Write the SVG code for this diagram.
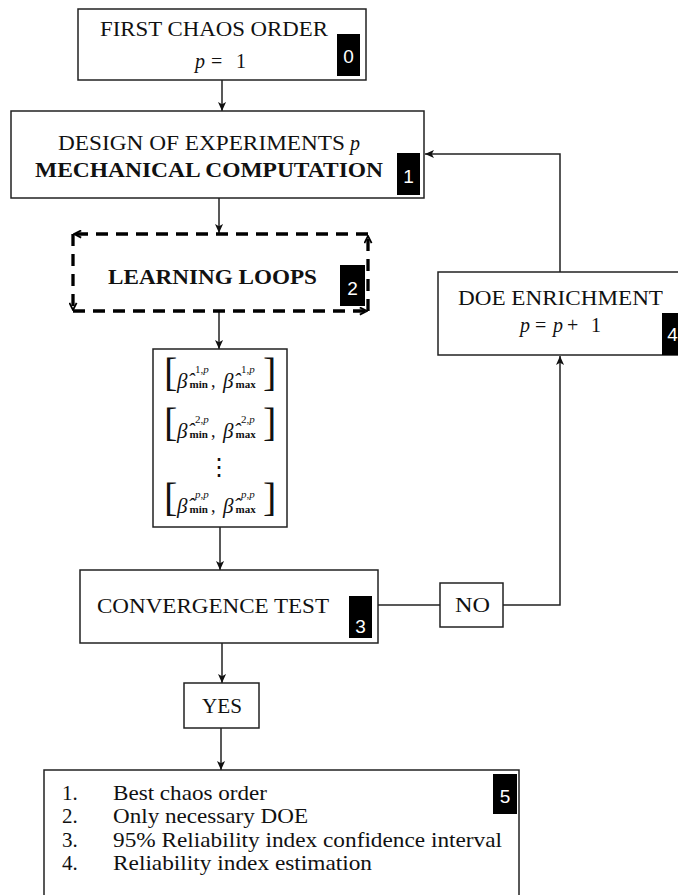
<svg xmlns="http://www.w3.org/2000/svg" width="678" height="895" viewBox="0 0 678 895">
<style>
.t{font-family:"Liberation Serif","Times New Roman",serif;font-size:20px;fill:#111}
.l{font-family:"Liberation Serif","Times New Roman",serif;font-size:21px;fill:#111}
.b{font-weight:bold}
.i{font-style:italic}
.m{font-family:"Liberation Serif","Times New Roman",serif;fill:#111}
.box{fill:#fff;stroke:#222;stroke-width:1.5}
.tag{fill:#000}
.tt{font-family:"Liberation Sans",Arial,sans-serif;font-size:19px;fill:#fff;text-anchor:middle}
.conn{fill:none;stroke:#222;stroke-width:1.5}
.dash{fill:none;stroke:#000;stroke-width:3.3;stroke-dasharray:12 8}
</style>
<defs>
<marker id="arr" viewBox="0 0 10 10" refX="10" refY="5" markerWidth="9" markerHeight="9" markerUnits="userSpaceOnUse" orient="auto">
<path d="M0,0.5 L10,5 L0,9.5 L2.5,5 z" fill="#111"/>
</marker>
<marker id="chev" viewBox="0 0 10 10" refX="9" refY="5" markerWidth="9" markerHeight="9" markerUnits="userSpaceOnUse" orient="auto">
<path d="M1,1 L9,5 L1,9" fill="none" stroke="#000" stroke-width="2" stroke-dasharray="none"/>
</marker>
</defs>
<rect width="678" height="895" fill="#fff"/>

<g id="connectors">
<line class="conn" x1="222" y1="80" x2="222" y2="111" marker-end="url(#arr)"/>
<line class="conn" x1="219" y1="198" x2="219" y2="233" marker-end="url(#arr)"/>
<line class="conn" x1="219" y1="312" x2="219" y2="349" marker-end="url(#arr)"/>
<line class="conn" x1="220" y1="527" x2="220" y2="570" marker-end="url(#arr)"/>
<line class="conn" x1="222" y1="643" x2="222" y2="683" marker-end="url(#arr)"/>
<line class="conn" x1="221" y1="728" x2="221" y2="770" marker-end="url(#arr)"/>
<line class="conn" x1="378" y1="605" x2="440" y2="605"/>
<polyline class="conn" points="503,605 560,605 560,356" marker-end="url(#arr)"/>
<polyline class="conn" points="560,272 560,154 425,154" marker-end="url(#arr)"/>
</g>

<g id="node0">
<rect class="box" x="78" y="9" width="288" height="71"/>
<text class="t" x="100" y="36" textLength="228" lengthAdjust="spacingAndGlyphs">FIRST CHAOS ORDER</text>
<text class="t" x="195" y="68"><tspan class="i">p</tspan><tspan x="211">=</tspan><tspan x="236">1</tspan></text>
<rect class="tag" x="337" y="34" width="23" height="42"/>
<text class="tt" x="348.5" y="63">0</text>
</g>

<g id="node1">
<rect class="box" x="11" y="111" width="413" height="87"/>
<text class="t" x="58" y="150"><tspan textLength="287" lengthAdjust="spacingAndGlyphs">DESIGN OF EXPERIMENTS</tspan><tspan class="i" x="350">p</tspan></text>
<text class="t b" x="35" y="177" textLength="348" lengthAdjust="spacingAndGlyphs">MECHANICAL COMPUTATION</text>
<rect class="tag" x="397" y="153" width="23" height="42"/>
<text class="tt" x="408.5" y="183">1</text>
</g>

<g id="node2">
<path class="dash" d="M368,311 L368,236" marker-end="url(#chev)"/>
<path class="dash" d="M368,234 L74,234" marker-end="url(#chev)"/>
<path class="dash" d="M73,234 L73,310" marker-end="url(#chev)"/>
<path class="dash" d="M73,311 L367,311" marker-end="url(#chev)"/>
<text class="t b" x="108" y="284" textLength="209" lengthAdjust="spacingAndGlyphs">LEARNING LOOPS</text>
<rect class="tag" x="340" y="265" width="25" height="41"/>
<text class="tt" x="352.5" y="295">2</text>
</g>

<g id="intervals">
<rect class="box" x="153" y="349" width="134" height="178"/>
<g id="row1" transform="translate(0,388)">
<text class="m" x="164" y="-2" font-size="40">[</text>
<text class="m" x="177" y="0" font-size="21"><tspan class="i">β̂</tspan><tspan x="195" y="-15" font-size="11">1,<tspan class="i">p</tspan></tspan><tspan x="189.5" y="0" font-size="11" class="b">min</tspan><tspan x="211" y="-1" font-size="18">,</tspan></text>
<text class="m" x="223" y="0" font-size="21"><tspan class="i">β̂</tspan><tspan x="241" y="-15" font-size="11">1,<tspan class="i">p</tspan></tspan><tspan x="235.5" y="0" font-size="11" class="b">max</tspan></text>
<text class="m" x="263" y="-2" font-size="40">]</text>
</g>
<g id="row2" transform="translate(0,438)">
<text class="m" x="164" y="-2" font-size="40">[</text>
<text class="m" x="177" y="0" font-size="21"><tspan class="i">β̂</tspan><tspan x="195" y="-15" font-size="11">2,<tspan class="i">p</tspan></tspan><tspan x="189.5" y="0" font-size="11" class="b">min</tspan><tspan x="211" y="-1" font-size="18">,</tspan></text>
<text class="m" x="223" y="0" font-size="21"><tspan class="i">β̂</tspan><tspan x="241" y="-15" font-size="11">2,<tspan class="i">p</tspan></tspan><tspan x="235.5" y="0" font-size="11" class="b">max</tspan></text>
<text class="m" x="263" y="-2" font-size="40">]</text>
</g>
<text x="219" y="475" font-family="DejaVu Serif, serif" font-size="24" text-anchor="middle" fill="#111">⋮</text>
<g id="row3" transform="translate(0,513)">
<text class="m" x="164" y="-2" font-size="40">[</text>
<text class="m" x="177" y="0" font-size="21"><tspan class="i">β̂</tspan><tspan x="195" y="-15" font-size="11" class="i">p<tspan font-style="normal">,</tspan>p</tspan><tspan x="189.5" y="0" font-size="11" class="b">min</tspan><tspan x="211" y="-1" font-size="18">,</tspan></text>
<text class="m" x="223" y="0" font-size="21"><tspan class="i">β̂</tspan><tspan x="241" y="-15" font-size="11" class="i">p<tspan font-style="normal">,</tspan>p</tspan><tspan x="235.5" y="0" font-size="11" class="b">max</tspan></text>
<text class="m" x="263" y="-2" font-size="40">]</text>
</g>
</g>

<g id="node3">
<rect class="box" x="80" y="570" width="298" height="73"/>
<text class="t" x="97" y="613" textLength="232" lengthAdjust="spacingAndGlyphs">CONVERGENCE TEST</text>
<rect class="tag" x="349" y="596" width="23" height="42"/>
<text class="tt" x="360.5" y="633">3</text>
</g>

<g id="no">
<rect class="box" x="440" y="583" width="63" height="44"/>
<text class="t" x="455" y="612" textLength="35" lengthAdjust="spacingAndGlyphs">NO</text>
</g>

<g id="node4">
<rect class="box" x="438" y="272" width="250" height="83"/>
<text class="t" x="458" y="305" textLength="205" lengthAdjust="spacingAndGlyphs">DOE ENRICHMENT</text>
<text class="t" x="520" y="332"><tspan class="i">p</tspan><tspan x="535">=</tspan><tspan x="553" class="i">p</tspan><tspan x="567">+</tspan><tspan x="591">1</tspan></text>
<rect class="tag" x="662" y="313" width="20" height="42"/>
<text class="tt" x="672.5" y="341">4</text>
</g>

<g id="yes">
<rect class="box" x="184" y="683" width="75" height="45"/>
<text class="t" x="202" y="713" textLength="40" lengthAdjust="spacingAndGlyphs">YES</text>
</g>

<g id="node5">
<rect class="box" x="44" y="770" width="475" height="140"/>
<rect class="tag" x="493" y="774" width="24" height="40"/>
<text class="tt" x="505" y="803">5</text>
<text class="l" x="62" y="800">1.<tspan x="113" textLength="154" lengthAdjust="spacingAndGlyphs">Best chaos order</tspan></text>
<text class="l" x="62" y="823">2.<tspan x="113" textLength="195" lengthAdjust="spacingAndGlyphs">Only necessary DOE</tspan></text>
<text class="l" x="62" y="847">3.<tspan x="113" textLength="389" lengthAdjust="spacingAndGlyphs">95% Reliability index confidence interval</tspan></text>
<text class="l" x="62" y="870">4.<tspan x="113" textLength="259" lengthAdjust="spacingAndGlyphs">Reliability index estimation</tspan></text>
</g>
</svg>
